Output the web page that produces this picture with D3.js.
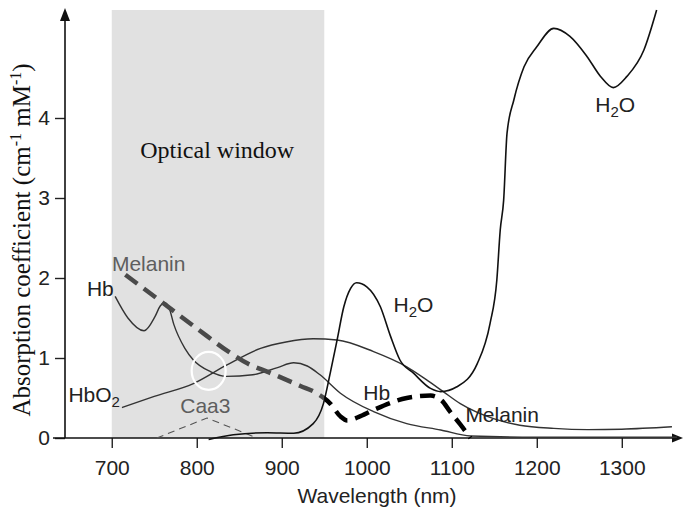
<!DOCTYPE html>
<html>
<head>
<meta charset="utf-8">
<script src="https://d3js.org/d3.v7.min.js"></script>
<style>
  body { margin: 0; background: #fff; }
  .tick text { font-family: "Liberation Sans", Arial, sans-serif; font-size: 21px; fill: #222; }
  .tick line { stroke: #222; stroke-width: 1.4; }
  .lbl { font-family: "Liberation Sans", Arial, sans-serif; font-size: 21px; fill: #222; }
</style>
</head>
<body>
<script>
// wavelength (nm) / absorption coefficient (cm-1 mM-1)
var hbWl  = [704, 719, 738, 751, 757, 762, 767, 773, 786, 796, 816, 835, 866, 895, 914, 930, 945, 969, 1008, 1047, 1087, 1122, 1200, 1365];
var hbAbs = [1.77, 1.50, 1.34, 1.52, 1.65, 1.69, 1.64, 1.42, 1.12, 0.975, 0.83, 0.77, 0.79, 0.88, 0.94, 0.90, 0.79, 0.56, 0.33, 0.18, 0.10, 0.025, 0.01, 0.01];

var hbo2Wl  = [712, 750, 796, 835, 875, 905, 937, 965, 1008, 1047, 1070, 1090, 1110, 1130, 1150, 1180, 1220, 1260, 1300, 1359];
var hbo2Abs = [0.38, 0.52, 0.68, 0.91, 1.12, 1.20, 1.24, 1.225, 1.08, 0.89, 0.73, 0.58, 0.43, 0.32, 0.24, 0.16, 0.12, 0.105, 0.11, 0.14];

var h2oWl  = [814, 843, 883, 914, 937, 949, 957, 965, 973, 981, 988, 1000, 1016, 1028, 1039, 1055, 1075, 1087, 1106, 1130, 1145, 1153, 1157, 1161, 1165, 1173, 1185, 1200, 1220, 1239, 1259, 1275, 1290, 1306, 1326, 1341];
var h2oAbs = [-0.02, 0.04, 0.066, 0.06, 0.18, 0.43, 0.81, 1.22, 1.64, 1.87, 1.94, 1.89, 1.64, 1.27, 0.975, 0.81, 0.62, 0.58, 0.64, 0.93, 1.43, 1.975, 2.6, 2.97, 3.81, 4.225, 4.64, 4.89, 5.12, 5.02, 4.77, 4.52, 4.38, 4.52, 4.85, 5.35];

var melWl  = [716, 760, 800, 840, 860, 885, 922, 941, 957, 969, 977, 990, 1008, 1047, 1075, 1088, 1098, 1110, 1122];
var melAbs = [2.04, 1.69, 1.37, 1.06, 0.93, 0.82, 0.65, 0.56, 0.43, 0.27, 0.22, 0.26, 0.35, 0.50, 0.53, 0.47, 0.33, 0.17, 0.0];

var caaWl  = [753, 812, 871];
var caaAbs = [0, 0.25, 0];

var windowNm = [700, 950];
var xTicks = [700, 800, 900, 1000, 1100, 1200, 1300];
var yTicks = [0, 1, 2, 3, 4];

function pairs(a, b) { return a.map(function(d, i) { return [d, b[i]]; }); }

var w = 690, h = 510;
var svg = d3.select("body").append("svg").attr("width", w).attr("height", h);

var x = d3.scaleLinear().domain([645, 1372]).range([65, 683]);
var y = d3.scaleLinear().domain([0, 5]).range([438, 38]);

// optical window
svg.append("rect")
  .attr("x", x(windowNm[0])).attr("y", y(5.35))
  .attr("width", x(windowNm[1]) - x(windowNm[0]))
  .attr("height", y(0) - y(5.35))
  .attr("fill", "#e1e1e1");

svg.append("text")
  .attr("x", x(824)).attr("y", y(3.5))
  .attr("text-anchor", "middle")
  .attr("font-family", "'Liberation Serif', 'Times New Roman', serif")
  .attr("font-size", 24).attr("fill", "#111")
  .text("Optical window");

// axes
var xAxis = d3.axisBottom(x).tickValues(xTicks).tickSize(10).tickPadding(12).tickFormat(d3.format("d"));
var yAxis = d3.axisLeft(y).tickValues(yTicks).tickSize(10).tickPadding(5).tickFormat(d3.format("d"));
svg.append("g").attr("transform", "translate(0," + y(0) + ")").call(xAxis).select(".domain").remove();
svg.append("g").attr("transform", "translate(" + x(645) + ",0)").call(yAxis).select(".domain").remove();

svg.append("line").attr("x1", 53).attr("x2", x(1372) - 6).attr("y1", y(0)).attr("y2", y(0))
  .attr("stroke", "#111").attr("stroke-width", 1.6);
svg.append("line").attr("x1", x(645)).attr("x2", x(645)).attr("y1", y(0)).attr("y2", y(5.35) + 6)
  .attr("stroke", "#111").attr("stroke-width", 1.6);
var ax = x(1372), ay = y(0);
svg.append("path").attr("d", "M" + ax + "," + ay + "L" + (ax - 11) + "," + (ay - 4.5) + "L" + (ax - 11) + "," + (ay + 4.5) + "Z").attr("fill", "#111");
var tx = x(645), ty = y(5.35) - 2;
svg.append("path").attr("d", "M" + tx + "," + ty + "L" + (tx - 5) + "," + (ty + 13) + "L" + (tx + 5) + "," + (ty + 13) + "Z").attr("fill", "#111");

// curves
var line = d3.line().x(function(d) { return x(d[0]); }).y(function(d) { return y(d[1]); }).curve(d3.curveMonotoneX);

svg.append("path").attr("d", d3.line().x(function(d) { return x(d[0]); }).y(function(d) { return y(d[1]); })(pairs(caaWl, caaAbs)))
  .attr("fill", "none").attr("stroke", "#555").attr("stroke-width", 1.1).attr("stroke-dasharray", "7,5");

svg.append("path").attr("d", line(pairs(hbo2Wl, hbo2Abs)))
  .attr("fill", "none").attr("stroke", "#333").attr("stroke-width", 1.4);
svg.append("path").attr("d", line(pairs(hbWl, hbAbs)))
  .attr("fill", "none").attr("stroke", "#333").attr("stroke-width", 1.4);
svg.append("path").attr("d", line(pairs(h2oWl, h2oAbs)))
  .attr("fill", "none").attr("stroke", "#111").attr("stroke-width", 1.6);

// melanin: grey inside the window, black outside
var defs = svg.append("defs");
defs.append("clipPath").attr("id", "inWin").append("rect")
  .attr("x", 0).attr("y", 0).attr("width", x(windowNm[1])).attr("height", h);
defs.append("clipPath").attr("id", "outWin").append("rect")
  .attr("x", x(windowNm[1])).attr("y", 0).attr("width", w).attr("height", h);
var melD = line(pairs(melWl, melAbs));
svg.append("path").attr("d", melD).attr("clip-path", "url(#inWin)")
  .attr("fill", "none").attr("stroke", "#4a4a4a").attr("stroke-width", 4.5).attr("stroke-dasharray", "15,8");
svg.append("path").attr("d", melD).attr("clip-path", "url(#outWin)")
  .attr("fill", "none").attr("stroke", "#000").attr("stroke-width", 4.5).attr("stroke-dasharray", "15,8");

// white circle at the isosbestic point
svg.append("ellipse").attr("cx", x(814)).attr("cy", y(0.84)).attr("rx", 17).attr("ry", 19)
  .attr("fill", "none").attr("stroke", "#fff").attr("stroke-width", 2.2);

// labels
function label(nm, v, txt, sub, after, color) {
  var t = svg.append("text").attr("class", "lbl").attr("x", x(nm)).attr("y", y(v)).style("fill", color || "#222");
  t.append("tspan").text(txt);
  if (sub) {
    t.append("tspan").attr("font-size", 15).attr("dy", 5).text(sub);
    if (after) t.append("tspan").attr("dy", -5).text(after);
  }
}
label(700.2, 2.09, "Melanin", null, null, "#5e5e5e");
label(670.8, 1.77, "Hb");
label(649, 0.45, "HbO", "2");
label(780.6, 0.31, "Caa3", null, null, "#5e5e5e");
label(1031.5, 1.58, "H", "2", "O");
label(996, 0.475, "Hb");
label(1116, 0.2, "Melanin");
label(1268.8, 4.08, "H", "2", "O");

// axis titles
svg.append("text").attr("class", "lbl")
  .attr("x", 377).attr("y", 503).attr("text-anchor", "middle")
  .text("Wavelength (nm)");

var yl = svg.append("text")
  .attr("transform", "translate(30,240) rotate(-90)")
  .attr("text-anchor", "middle")
  .attr("font-family", "'Liberation Serif', 'Times New Roman', serif")
  .attr("font-size", 25).attr("fill", "#111");
yl.append("tspan").text("Absorption coefficient (cm");
yl.append("tspan").attr("font-size", 16).attr("dy", -9).text("-1");
yl.append("tspan").attr("dy", 9).text(" mM");
yl.append("tspan").attr("font-size", 16).attr("dy", -9).text("-1");
yl.append("tspan").attr("dy", 9).text(")");
</script>
</body>
</html>
